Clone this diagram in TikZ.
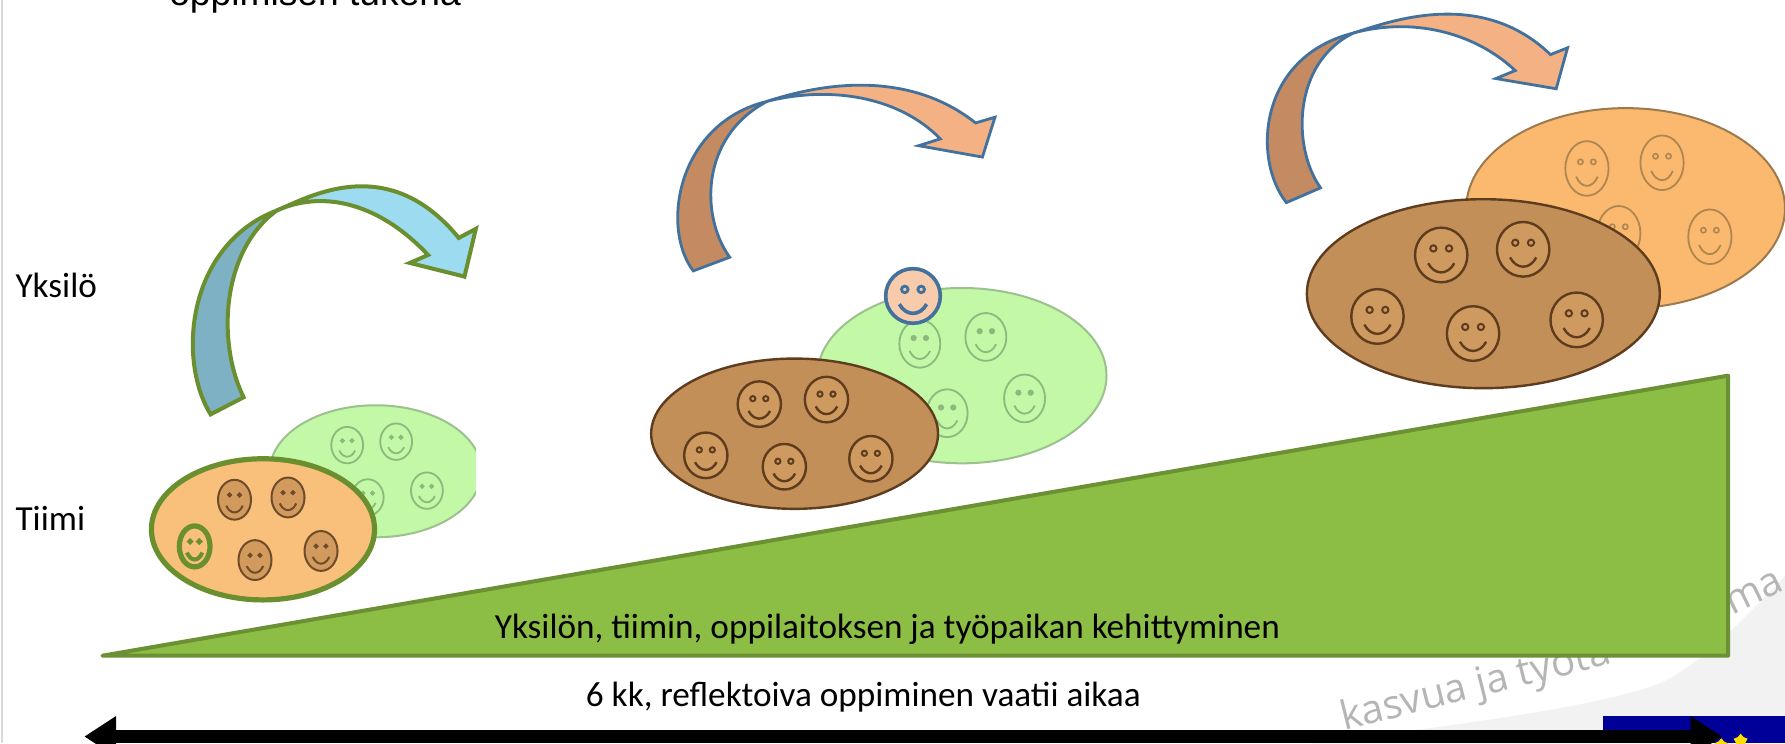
\documentclass[tikz,border=0pt]{standalone}
\usepackage{fontspec}
\setmainfont{Carlito}
\newfontfamily\titlefont{Liberation Sans}
\newfontfamily\markfont{Open Sans}
\usetikzlibrary{arrows.meta,shapes.geometric}

\definecolor{leafgreen}{HTML}{8CBE45}
\definecolor{leafedge}{HTML}{6C9034}
\definecolor{palegreen}{HTML}{C2F8A6}
\definecolor{paleedge}{HTML}{9CC18F}
\definecolor{palesmile}{HTML}{8DB97F}
\definecolor{teamorange}{HTML}{F9C07C}
\definecolor{teamedge}{HTML}{6A8F2E}
\definecolor{tanfill}{HTML}{D29B5D}
\definecolor{tanedge}{HTML}{6E4B2A}
\definecolor{brownfill}{HTML}{C38F58}
\definecolor{brownedge}{HTML}{5E3C1E}
\definecolor{brownsmile}{HTML}{CF9A5F}
\definecolor{orangefill}{HTML}{FAB96F}
\definecolor{orangeedge}{HTML}{9C7A4E}
\definecolor{orangesmile}{HTML}{B08650}
\definecolor{peachfill}{HTML}{F8CBAD}
\definecolor{blueedge}{HTML}{41719C}
\definecolor{skyfront}{HTML}{9DDCF0}
\definecolor{skyback}{HTML}{7FB1C4}
\definecolor{salmonfront}{HTML}{F4B183}
\definecolor{salmonback}{HTML}{C48B62}
\definecolor{swooshgrey}{HTML}{F2F2F2}
\definecolor{markgrey}{HTML}{B5B5B5}
\definecolor{eublue}{HTML}{000099}
\definecolor{eustar}{HTML}{FFDD00}

\tikzstyle{lbl} = [font=\fontsize{8.8}{10}\selectfont, inner sep=0pt]
\tikzstyle{head} = [font=\titlefont\fontsize{9.3}{11}\selectfont, inner sep=0pt]
\tikzstyle{watermark} = [font=\markfont\fontsize{10}{12}\selectfont, text=markgrey, inner sep=0pt]
\tikzstyle{ramp} = [fill=leafgreen, draw=leafedge, line width=1pt, line join=round]
\tikzstyle{timeline} = [draw, line width=1.1mm, {Triangle[length=2.8mm,width=3.4mm]}-{Triangle[length=2.8mm,width=3.4mm]}]
\tikzstyle{pale team} = [fill=palegreen, draw=paleedge, line width=0.5pt]
\tikzstyle{first team} = [fill=teamorange, draw=teamedge, line width=1.3pt]
\tikzstyle{brown team} = [fill=brownfill, draw=brownedge, line width=0.6pt]
\tikzstyle{orange team} = [fill=orangefill, draw=orangeedge, line width=0.5pt]
\tikzstyle{sky back} = [fill=skyback, draw=teamedge, line width=1pt]
\tikzstyle{sky front} = [fill=skyfront, draw=teamedge, line width=1pt]
\tikzstyle{salmon back} = [fill=salmonback, draw=blueedge, line width=0.7pt]
\tikzstyle{salmon front} = [fill=salmonfront, draw=blueedge, line width=0.7pt]
\tikzstyle{euro star} = [star, star points=5, fill=eustar, minimum size=1.3mm, inner sep=0pt]
% faces
\tikzstyle{pale face} = [draw=palesmile, line width=0.45pt]
\tikzstyle{pale eye} = [draw=palesmile, fill=palesmile, line width=0.3pt]
\tikzstyle{pale mouth} = [draw=palesmile, line width=0.45pt]
\tikzstyle{tan face} = [draw=tanedge, fill=tanfill, line width=0.5pt]
\tikzstyle{tan eye} = [draw=tanedge, fill=tanedge, line width=0.3pt]
\tikzstyle{tan mouth} = [draw=tanedge, line width=0.5pt]
\tikzstyle{ring face} = [draw=teamedge, fill=teamorange, line width=1.3pt]
\tikzstyle{ring eye} = [draw=teamedge, fill=teamedge, line width=0.6pt]
\tikzstyle{ring mouth} = [draw=teamedge, line width=1pt]
\tikzstyle{brown face} = [draw=brownedge, fill=brownsmile, line width=0.6pt]
\tikzstyle{brown eye} = [draw=brownedge, fill=brownsmile, line width=0.5pt]
\tikzstyle{brown mouth} = [draw=brownedge, line width=0.6pt]
\tikzstyle{orange face} = [draw=orangesmile, line width=0.45pt]
\tikzstyle{orange eye} = [draw=orangesmile, line width=0.4pt]
\tikzstyle{orange mouth} = [draw=orangesmile, line width=0.45pt]
\tikzstyle{peach face} = [draw=blueedge, fill=peachfill, line width=0.9pt]
\tikzstyle{peach eye} = [draw=blueedge, fill=peachfill, line width=0.7pt]
\tikzstyle{peach mouth} = [draw=blueedge, line width=0.9pt]

% x, y, x radius, y radius, kind
\newcommand{\smiley}[5]{%
  \draw[#5 face] (#1,#2) ellipse [x radius=#3, y radius=#4];
  \draw[#5 eye] (#1-0.3*#3,#2-0.24*#4) circle [radius=0.12*#3];
  \draw[#5 eye] (#1+0.3*#3,#2-0.24*#4) circle [radius=0.12*#3];
  \draw[#5 mouth] (#1-0.5*#3,#2+0.3*#4) .. controls (#1-0.25*#3,#2+0.75*#4) and (#1+0.25*#3,#2+0.75*#4) .. (#1+0.5*#3,#2+0.3*#4);
}

\begin{document}
\begin{tikzpicture}[x=0.1mm,y=-0.1mm]
\useasboundingbox (0,0) rectangle (1568,653);
\fill[white] (0,0) rectangle (1568,653);
\draw[black!15, line width=0.2mm] (2,0) -- (2,653);
\fill[swooshgrey] (1568,506) .. controls (1540,535) and (1490,590) .. (1451,603) .. controls (1400,620) and (1300,635) .. (1150,653) -- (1568,653) -- cycle;
\node[watermark, anchor=base west, rotate=14] (mark1) at (1180,642) {kasvua ja työtä -};
\node[watermark, anchor=base west, rotate=26] (mark2) at (1521,541) {ma};

% growth ramp
\filldraw[ramp] (90,576) -- (1518,330) -- (1518,576) -- cycle;
\node[lbl, anchor=base west] (growth) at (434,561) {Yksilön, tiimin, oppilaitoksen ja työpaikan kehittyminen};

% first team
\begin{scope}
\clip (0,0) rectangle (418,653);
\filldraw[pale team] (330,414) ellipse [x radius=93, y radius=58];
\smiley{305}{391}{14}{16}{pale}
\smiley{348}{388}{14}{16}{pale}
\smiley{375}{431}{14}{16}{pale}
\smiley{323}{437}{14}{16}{pale}
\end{scope}
\filldraw[first team] (231,465) ellipse [x radius=98, y radius=62];
\smiley{206}{439}{14.5}{17.5}{tan}
\smiley{253}{437}{14.5}{17.5}{tan}
\smiley{224}{492}{14.5}{17.5}{tan}
\smiley{282}{484}{14.5}{17.5}{tan}
\smiley{171}{480}{13.5}{18}{ring}
\filldraw[sky back] (185,364) .. controls (155,315) and (165,215) .. (243,185) .. controls (195,220) and (190,300) .. (214,349) -- cycle;
\filldraw[sky front] (243,185) .. controls (270,174) and (340,132) .. (403,209) -- (418,201) -- (408,243) -- (360,231) -- (376,224) .. controls (330,175) and (280,168) .. (243,185) -- cycle;

% second team
\filldraw[pale team] (845,330) ellipse [x radius=127, y radius=77];
\smiley{808}{302}{18}{21}{pale}
\smiley{866}{296}{18}{21}{pale}
\smiley{832}{363}{18}{21}{pale}
\smiley{900}{350}{18}{21}{pale}
\smiley{802}{260}{24}{24}{peach}
\filldraw[brown team] (698,381) ellipse [x radius=126, y radius=66];
\smiley{667}{355}{19}{20}{brown}
\smiley{726}{351}{19}{20}{brown}
\smiley{620}{400}{19}{20}{brown}
\smiley{689}{410}{19}{20}{brown}
\smiley{765}{403}{19}{20}{brown}
\filldraw[salmon back] (609,238) .. controls (580,200) and (595,108) .. (674,89) .. controls (615,120) and (615,190) .. (641,226) -- cycle;
\filldraw[salmon front] (674,89) .. controls (705,79) and (790,55) .. (857,108) -- (874,103) -- (863,138) -- (807,128) -- (826,122) .. controls (790,85) and (730,75) .. (674,89) -- cycle;

% third team
\filldraw[orange team] (1428,183) ellipse [x radius=140, y radius=88];
\smiley{1394}{148}{19}{24}{orange}
\smiley{1460}{143}{19}{24}{orange}
\smiley{1502}{208}{19}{24}{orange}
\smiley{1422}{205}{19}{24}{orange}
\filldraw[brown team] (1303,258) ellipse [x radius=155, y radius=83];
\smiley{1266}{224}{23}{24}{brown}
\smiley{1338}{219}{23}{24}{brown}
\smiley{1210}{278}{23}{24}{brown}
\smiley{1294}{293}{23}{24}{brown}
\smiley{1385}{281}{23}{24}{brown}
\filldraw[salmon back] (1130,178) .. controls (1100,140) and (1105,50) .. (1189,29) .. controls (1135,55) and (1135,130) .. (1160,165) -- cycle;
\filldraw[salmon front] (1189,29) .. controls (1218,20) and (1300,-12) .. (1362,48) -- (1377,42) -- (1367,78) -- (1314,69) -- (1331,62) .. controls (1295,28) and (1240,15) .. (1189,29) -- cycle;

% time span
\fill[eublue] (1408,629) rectangle (1568,653);
\node[euro star] (star1) at (1512,655) {};
\node[euro star] (star2) at (1529,651) {};
\coordinate (past) at (74,647);
\coordinate (future) at (1513,647);
\draw[timeline] (past) -- (future);
\node[lbl, anchor=base west] (span) at (514,621) {6 kk, reflektoiva oppiminen vaatii aikaa};

% levels
\node[lbl, anchor=base west] (yksilo) at (13,261) {Yksilö};
\node[lbl, anchor=base west] (tiimi) at (13,466) {Tiimi};
\node[head, anchor=base west] (title) at (148,5) {oppimisen tukena};
\end{tikzpicture}
\end{document}
